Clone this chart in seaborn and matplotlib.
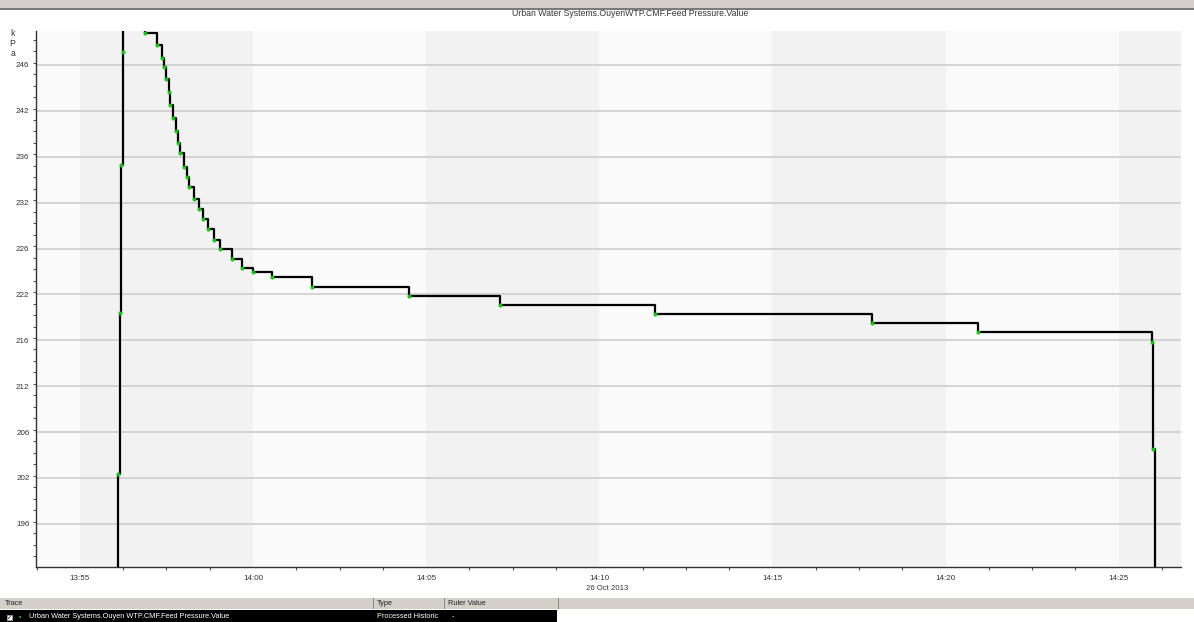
import pandas as pd
import matplotlib.pyplot as plt
import matplotlib.dates as mdates
from matplotlib.ticker import MultipleLocator, FixedLocator
from matplotlib.patches import Rectangle
import seaborn as sns

# sampled feed pressure (kPa), 26 Oct 2013
times = ["13:56:05", "13:56:06", "13:56:09", "13:56:11", "13:56:14", "13:56:15",
         "13:56:53", "13:57:13", "13:57:22", "13:57:26", "13:57:30", "13:57:34",
         "13:57:37", "13:57:42", "13:57:46", "13:57:50", "13:57:54", "13:58:00",
         "13:58:05", "13:58:09", "13:58:18", "13:58:26", "13:58:34", "13:58:42",
         "13:58:52", "13:59:03", "13:59:24", "13:59:41", "14:00:00", "14:00:33",
         "14:01:42", "14:04:30", "14:07:08", "14:11:37", "14:17:53", "14:20:56",
         "14:25:57", "14:26:00", "14:26:03"]
pressure = [185.0, 201.4, 219.0, 235.1, 247.4, 252.0,
            249.44, 248.17, 246.72, 245.74, 244.46, 243.08,
            241.63, 240.25, 238.83, 237.53, 236.37, 234.91,
            233.76, 232.67, 231.36, 230.34, 229.18, 228.16,
            226.89, 225.91, 224.86, 223.84, 223.47, 222.86,
            221.8, 220.8, 219.85, 218.9, 217.9, 216.9,
            215.8, 204.2, 185.0]

y_ticks = [246, 241, 236, 231, 226, 221, 216, 211, 206, 201, 196]
y_labels = ["246", "242", "236", "232", "226", "222", "216", "212", "206", "202", "196"]

title = "Urban Water Systems.OuyenWTP.CMF.Feed Pressure.Value"
trace_name = "Urban Water Systems.Ouyen WTP.CMF.Feed Pressure.Value"

df = pd.DataFrame({"time": pd.to_datetime(["2013-10-26 " + t for t in times]),
                   "kPa": pressure})

sns.set_style("white")
plt.rcParams['font.family'] = ['Liberation Sans', 'DejaVu Sans']

W, H = 1194, 622
fig = plt.figure(figsize=(W / 100, H / 100), dpi=100)


def fx(px):
    return px / W


def fy(py):
    return 1 - py / H


ax = fig.add_axes([fx(36), fy(567), (1181 - 36) / W, (567 - 31) / H])

t0 = pd.Timestamp("2013-10-26 13:53:44")
t1 = pd.Timestamp("2013-10-26 14:26:48")

# alternating background bands (5 min)
edges = [t0] + list(pd.date_range("2013-10-26 13:55", "2013-10-26 14:25", freq="5min")) + [t1]
for i in range(len(edges) - 1):
    c = "#fafafa" if i % 2 == 0 else "#f2f2f2"
    ax.axvspan(edges[i], edges[i + 1], color=c, lw=0, zorder=0)

sns.lineplot(data=df, x="time", y="kPa", ax=ax, drawstyle="steps-post",
             color="black", linewidth=1.6, marker="o", markersize=2.2,
             markerfacecolor="#1fbf1f", markeredgecolor="#1fbf1f", zorder=3)

ax.set_xlim(t0, t1)
ax.set_ylim(191.3, 249.7)

ax.set_yticks(y_ticks)
ax.set_yticklabels(y_labels)
ax.yaxis.set_minor_locator(MultipleLocator(1.25))
ax.yaxis.grid(True, color="#d0d0d0", linewidth=1.3)
ax.set_axisbelow(True)

ax.xaxis.set_major_locator(mdates.MinuteLocator(byminute=range(0, 60, 5)))
ax.xaxis.set_major_formatter(mdates.DateFormatter("%H:%M"))
minor = pd.date_range("2013-10-26 13:52:30", "2013-10-26 14:27:00", freq="75s")
ax.xaxis.set_minor_locator(FixedLocator(mdates.date2num(minor)))

ax.tick_params(axis="both", which="major", length=3.5, width=0.9, color="#444444",
               labelsize=5.8, labelcolor="#333333", direction="out")
ax.tick_params(axis="x", which="major", pad=2.2)
ax.tick_params(axis="y", which="major", pad=1.2)
ax.tick_params(axis="both", which="minor", length=2, width=0.8, color="#555555",
               direction="out", bottom=True, left=True)
ax.set_xlabel("")
ax.set_ylabel("")

for s in ["top", "right"]:
    ax.spines[s].set_visible(False)
for s in ["left", "bottom"]:
    ax.spines[s].set_color("#333333")
    ax.spines[s].set_linewidth(1.0)

ax.annotate("26 Oct 2013", xy=(pd.Timestamp("2013-10-26 14:10"), 0),
            xycoords=("data", "axes fraction"), xytext=(6, -15.5),
            textcoords="offset points", ha="center", va="center",
            fontsize=5.6, color="#333333")

# title and unit
fig.text(fx(630), fy(13.5), title, ha="center", va="center", fontsize=6.3, color="#333333")
for i, ch in enumerate("kPa"):
    fig.text(fx(12.5), fy(33 + i * 10.3), ch, ha="center", va="center",
             fontsize=6.2, color="#333333")

# toolbar strip at top
fig.add_artist(Rectangle((0, fy(7.5)), 1, 7.5 / H, transform=fig.transFigure,
                         facecolor="#d4d0c8", edgecolor="none"))
fig.add_artist(Rectangle((0, fy(9.5)), 1, 2 / H, transform=fig.transFigure,
                         facecolor="#7a7a7a", edgecolor="none"))

# trace table at bottom
fig.add_artist(Rectangle((0, fy(609)), 1, 11.3 / H, transform=fig.transFigure,
                         facecolor="#d4d0c8", edgecolor="none"))
for sx in [373, 444, 557.5]:
    fig.add_artist(Rectangle((fx(sx), fy(609)), 1 / W, 11 / H, transform=fig.transFigure,
                             facecolor="#8a8a8a", edgecolor="none"))
fig.text(fx(5), fy(603.5), "Trace", ha="left", va="center", fontsize=5.3, color="#222222")
fig.text(fx(377), fy(603.5), "Type", ha="left", va="center", fontsize=5.3, color="#222222")
fig.text(fx(448), fy(603.5), "Ruler Value", ha="left", va="center", fontsize=5.3, color="#222222")

fig.add_artist(Rectangle((0, 0), fx(557), (H - 609.5) / H, transform=fig.transFigure,
                         facecolor="black", edgecolor="none"))
fig.add_artist(Rectangle((fx(6.5), fy(620)), 5 / W, 5 / H, transform=fig.transFigure,
                         facecolor="white", edgecolor="#aaaaaa", lw=0.5))
fig.text(fx(9), fy(617.3), "✓", ha="center", va="center", fontsize=4.5, color="black",
         family=["DejaVu Sans"])
fig.text(fx(19.5), fy(617), "•", ha="center", va="center", fontsize=5, color="#22cc22")
fig.text(fx(29), fy(616.5), trace_name, ha="left", va="center", fontsize=5.3, color="white")
fig.text(fx(377), fy(616.5), "Processed Historic", ha="left", va="center", fontsize=5.3,
         color="white")
fig.text(fx(452), fy(616.5), "-", ha="left", va="center", fontsize=5.3, color="white")

fig.savefig("out.png", dpi=100, facecolor="white")
